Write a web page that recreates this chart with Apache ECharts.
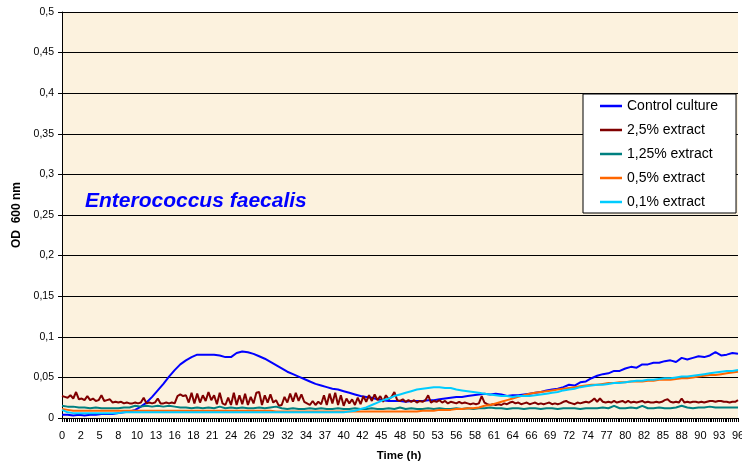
<!DOCTYPE html>
<html>
<head>
<meta charset="utf-8">
<script src="https://cdn.jsdelivr.net/npm/echarts@6/dist/echarts.min.js"></script>
<style>
html,body{margin:0;padding:0;background:#fff;}
#chart{width:742px;height:466px;}
</style>
</head>
<body>
<div id="chart"></div>
<script>
// Time grids (hours)
const hoursCoarse = Array.from({length:121}, (_, i) => +(i * 0.8).toFixed(1));
const hoursFine = Array.from({length:241}, (_, i) => +(i * 0.4).toFixed(1));
// x tick labels every 8/3 h (160 min), shown truncated to whole hours
const xLabelStep = 8 / 3;

const seriesNames = ['Control culture', '2,5% extract', '1,25% extract', '0,5% extract', '0,1% extract'];

// Control culture, every 0.8 h
const control = [
0.004,0.004,0.003,0.004,0.003,0.004,0.004,0.005,0.005,0.005,
0.006,0.007,0.008,0.010,0.014,0.019,0.026,0.034,0.042,0.051,
0.059,0.066,0.071,0.075,0.078,0.078,0.078,0.078,0.077,0.075,
0.075,0.080,0.082,0.081,0.079,0.076,0.073,0.069,0.065,0.061,
0.057,0.054,0.051,0.048,0.045,0.042,0.040,0.038,0.036,0.035,
0.033,0.031,0.029,0.027,0.026,0.025,0.023,0.022,0.021,0.021,
0.021,0.020,0.021,0.021,0.021,0.022,0.022,0.023,0.024,0.025,
0.026,0.026,0.027,0.028,0.029,0.030,0.029,0.030,0.029,0.027,
0.028,0.028,0.029,0.030,0.031,0.032,0.034,0.035,0.036,0.038,
0.041,0.040,0.044,0.045,0.049,0.052,0.054,0.055,0.058,0.058,
0.061,0.063,0.062,0.066,0.066,0.068,0.068,0.070,0.071,0.069,
0.074,0.072,0.074,0.076,0.075,0.077,0.081,0.077,0.078,0.080,
0.079];

// 2,5% extract, every 0.4 h
const ext25 = [
0.027,0.026,0.025,0.028,0.024,0.032,0.023,0.024,0.022,0.027,
0.022,0.024,0.021,0.022,0.028,0.021,0.022,0.023,0.019,0.020,
0.019,0.020,0.018,0.019,0.018,0.018,0.019,0.018,0.019,0.025,
0.018,0.019,0.018,0.019,0.024,0.018,0.018,0.019,0.018,0.019,
0.018,0.027,0.029,0.027,0.028,0.019,0.031,0.018,0.030,0.019,
0.028,0.021,0.032,0.022,0.028,0.017,0.031,0.018,0.016,0.025,
0.016,0.031,0.016,0.028,0.017,0.030,0.016,0.026,0.018,0.031,
0.032,0.016,0.028,0.019,0.029,0.019,0.022,0.015,0.016,0.026,
0.019,0.030,0.020,0.031,0.021,0.029,0.020,0.018,0.016,0.021,
0.016,0.020,0.017,0.028,0.016,0.030,0.018,0.031,0.016,0.028,
0.015,0.024,0.018,0.023,0.016,0.025,0.017,0.027,0.020,0.028,
0.021,0.029,0.022,0.027,0.020,0.028,0.023,0.026,0.032,0.022,
0.021,0.023,0.020,0.022,0.020,0.022,0.019,0.021,0.020,0.022,
0.028,0.019,0.021,0.020,0.022,0.019,0.021,0.018,0.020,0.019,
0.018,0.020,0.018,0.019,0.018,0.017,0.018,0.017,0.018,0.027,
0.019,0.017,0.016,0.017,0.016,0.017,0.016,0.018,0.017,0.019,
0.020,0.018,0.019,0.017,0.018,0.019,0.017,0.018,0.019,0.017,
0.018,0.017,0.018,0.019,0.017,0.018,0.017,0.018,0.020,0.021,
0.019,0.018,0.017,0.019,0.018,0.019,0.020,0.019,0.021,0.024,
0.020,0.024,0.020,0.019,0.020,0.019,0.021,0.019,0.020,0.021,
0.019,0.021,0.019,0.020,0.019,0.020,0.021,0.019,0.020,0.019,
0.019,0.020,0.019,0.020,0.022,0.023,0.020,0.019,0.020,0.019,
0.024,0.019,0.020,0.019,0.020,0.020,0.019,0.020,0.019,0.020,
0.021,0.021,0.020,0.021,0.021,0.020,0.020,0.019,0.020,0.020,
0.022];

// 1,25% extract, every 0.8 h
const ext125 = [
0.015,0.014,0.014,0.013,0.013,0.012,0.013,0.012,0.012,0.012,
0.012,0.013,0.013,0.015,0.014,0.015,0.014,0.015,0.014,0.015,
0.014,0.013,0.013,0.012,0.013,0.012,0.013,0.012,0.014,0.012,
0.013,0.012,0.013,0.012,0.012,0.013,0.012,0.013,0.014,0.012,
0.011,0.012,0.011,0.011,0.012,0.011,0.012,0.011,0.011,0.012,
0.011,0.011,0.012,0.011,0.011,0.012,0.011,0.011,0.012,0.011,
0.013,0.011,0.012,0.011,0.011,0.012,0.011,0.012,0.011,0.011,
0.012,0.011,0.012,0.011,0.012,0.012,0.013,0.012,0.012,0.011,
0.012,0.012,0.011,0.012,0.012,0.011,0.012,0.012,0.011,0.012,
0.012,0.012,0.011,0.012,0.012,0.012,0.013,0.012,0.015,0.012,
0.012,0.013,0.012,0.015,0.012,0.012,0.013,0.012,0.012,0.013,
0.015,0.013,0.012,0.013,0.013,0.014,0.013,0.013,0.013,0.013,
0.013];

// 0,5% extract, every 0.8 h
const ext05 = [
0.011,0.010,0.009,0.009,0.009,0.009,0.009,0.009,0.009,0.009,
0.009,0.009,0.009,0.009,0.009,0.009,0.009,0.009,0.009,0.009,
0.009,0.009,0.009,0.009,0.009,0.009,0.009,0.009,0.009,0.009,
0.009,0.009,0.009,0.009,0.009,0.009,0.009,0.009,0.008,0.008,
0.008,0.008,0.008,0.008,0.008,0.008,0.008,0.008,0.008,0.008,
0.008,0.008,0.008,0.008,0.008,0.008,0.008,0.008,0.008,0.008,
0.008,0.008,0.008,0.008,0.009,0.009,0.009,0.010,0.010,0.010,
0.011,0.011,0.012,0.012,0.013,0.015,0.016,0.018,0.020,0.022,
0.024,0.026,0.028,0.030,0.031,0.032,0.033,0.034,0.035,0.036,
0.037,0.038,0.039,0.040,0.041,0.041,0.042,0.043,0.043,0.044,
0.044,0.045,0.045,0.045,0.046,0.046,0.047,0.047,0.047,0.048,
0.049,0.049,0.050,0.051,0.052,0.053,0.053,0.054,0.055,0.056,
0.057];

// 0,1% extract, every 0.8 h
const ext01 = [
0.010,0.007,0.006,0.006,0.006,0.006,0.006,0.006,0.006,0.006,
0.006,0.007,0.007,0.007,0.007,0.007,0.007,0.007,0.007,0.007,
0.007,0.007,0.007,0.007,0.007,0.007,0.007,0.007,0.007,0.007,
0.007,0.007,0.007,0.007,0.007,0.007,0.007,0.007,0.007,0.007,
0.007,0.007,0.007,0.007,0.007,0.007,0.007,0.007,0.007,0.007,
0.007,0.008,0.009,0.011,0.013,0.016,0.019,0.022,0.024,0.027,
0.029,0.031,0.033,0.035,0.036,0.037,0.038,0.038,0.037,0.037,
0.035,0.034,0.033,0.032,0.031,0.030,0.029,0.028,0.027,0.027,
0.026,0.027,0.027,0.027,0.028,0.029,0.030,0.031,0.032,0.034,
0.035,0.036,0.038,0.039,0.040,0.041,0.041,0.042,0.043,0.043,
0.044,0.045,0.046,0.046,0.047,0.047,0.048,0.049,0.049,0.050,
0.051,0.051,0.052,0.053,0.054,0.055,0.056,0.057,0.058,0.058,
0.059];

const colors = ['#0000FF', '#800000', '#008080', '#FF6600', '#00CCFF'];
const seriesValues = [control, ext25, ext125, ext05, ext01];
const seriesHours = [hoursCoarse, hoursFine, hoursCoarse, hoursCoarse, hoursCoarse];

const FONT = '"Liberation Sans", Arial, sans-serif';

const chart = echarts.init(document.getElementById('chart'), null, {renderer: 'canvas'});

const series = seriesNames.map((name, k) => ({
  name: name,
  type: 'line',
  data: seriesHours[k].map((h, i) => [h, seriesValues[k][i]]),
  symbol: 'none',
  showSymbol: false,
  smooth: false,
  lineStyle: {color: colors[k], width: 2},
  itemStyle: {color: colors[k]},
  z: 2 + k,
  animation: false
}));

chart.setOption({
  animation: false,
  backgroundColor: '#ffffff',
  textStyle: {fontFamily: FONT},
  grid: {
    left: 62, right: 4, top: 12, bottom: 48,
    containLabel: false, outerBoundsMode: 'none',
    show: true, backgroundColor: '#FCF2DE', borderWidth: 0
  },
  xAxis: {
    type: 'value',
    min: 0, max: 96, interval: xLabelStep,
    axisLine: {show: true, onZero: false, lineStyle: {color: '#000', width: 1}},
    axisTick: {show: true, length: 4, lineStyle: {color: '#000'}},
    minorTick: {show: true, splitNumber: 10, length: 4, lineStyle: {color: '#000'}},
    splitLine: {show: false},
    axisLabel: {
      color: '#000', fontSize: 11, fontFamily: FONT, margin: 12,
      showMinLabel: true, showMaxLabel: true, hideOverlap: false,
      formatter: v => String(Math.floor(v + 1e-6))
    }
  },
  yAxis: {
    type: 'value',
    min: 0, max: 0.5, interval: 0.05,
    axisLine: {show: true, lineStyle: {color: '#000', width: 1}},
    axisTick: {show: true, length: 4, lineStyle: {color: '#000'}},
    splitLine: {show: true, lineStyle: {color: '#000', width: 1}},
    axisLabel: {
      color: '#000', fontSize: 10.5, fontFamily: FONT, margin: 8,
      formatter: v => String(Math.round(v * 100) / 100).replace('.', ',')
    }
  },
  legend: {
    orient: 'vertical',
    left: 583, top: 94,
    padding: [5, 18, 4, 17],
    icon: 'rect',
    itemWidth: 22, itemHeight: 2.5, itemGap: 10,
    backgroundColor: '#ffffff',
    borderColor: '#000', borderWidth: 1, borderRadius: 0,
    textStyle: {color: '#000', fontSize: 14, lineHeight: 14, fontFamily: FONT},
    data: seriesNames
  },
  graphic: [
    {
      type: 'text', x: 85, y: 201, z: 100,
      style: {text: 'Enterococcus faecalis', font: 'italic bold 21px ' + FONT, fill: '#0000FF', align: 'left', verticalAlign: 'middle'}
    },
    {
      type: 'text', x: 17, y: 215, rotation: Math.PI / 2, z: 100,
      style: {text: 'OD  600 nm', font: 'bold 12px ' + FONT, fill: '#000', align: 'center', verticalAlign: 'middle'}
    },
    {
      type: 'text', x: 399, y: 456, z: 100,
      style: {text: 'Time (h)', font: 'bold 11.5px ' + FONT, fill: '#000', align: 'center', verticalAlign: 'middle'}
    }
  ],
  series: series
});
</script>
</body>
</html>
